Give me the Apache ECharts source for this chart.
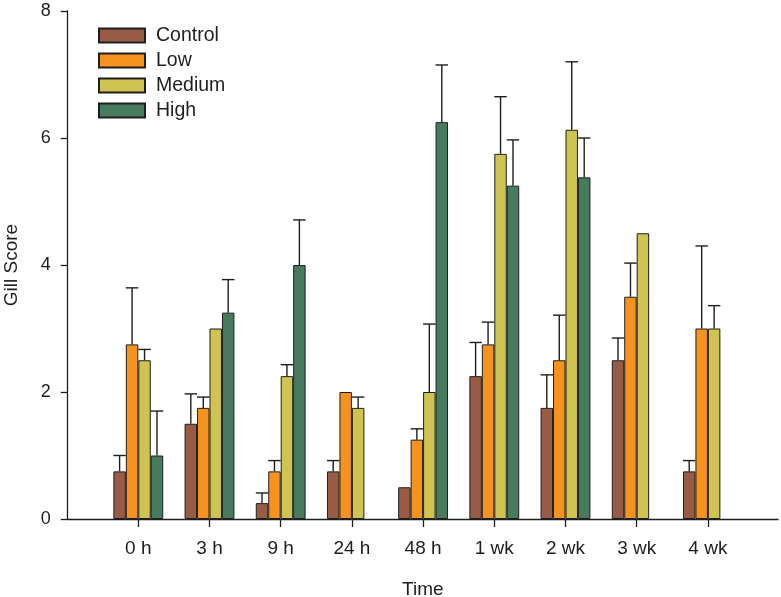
<!DOCTYPE html>
<html>
<head>
<meta charset="utf-8">
<script src="https://cdn.jsdelivr.net/npm/echarts@6/dist/echarts.min.js"></script>
<style>
html,body{margin:0;padding:0;background:#fff;}
#chart{width:781px;height:597px;}
</style>
</head>
<body>
<div id="chart"></div>
<script>
const categories = ['0 h', '3 h', '9 h', '24 h', '48 h', '1 wk', '2 wk', '3 wk', '4 wk'];
const seriesNames = ['Control', 'Low', 'Medium', 'High'];
const controlMean = [0.75, 1.5, 0.25, 0.75, 0.5, 2.25, 1.75, 2.5, 0.75];
const controlErr  = [0.25, 0.47, 0.16, 0.17, 0, 0.53, 0.52, 0.35, 0.17];
const lowMean     = [2.75, 1.75, 0.75, 2.0, 1.25, 2.75, 2.5, 3.5, 3.0];
const lowErr      = [0.89, 0.17, 0.17, 0, 0.17, 0.35, 0.71, 0.53, 1.30];
const mediumMean  = [2.5, 3.0, 2.25, 1.75, 2.0, 5.75, 6.13, 4.5, 3.0];
const mediumErr   = [0.17, 0, 0.18, 0.17, 1.07, 0.90, 1.07, 0, 0.36];
const highMean    = [1.0, 3.25, 4.0, null, 6.25, 5.25, 5.38, null, null];
const highErr     = [0.70, 0.52, 0.71, null, 0.90, 0.72, 0.62, null, null];
const yTicks = [0, 2, 4, 6, 8];

const means = [controlMean, lowMean, mediumMean, highMean];
const errs = [controlErr, lowErr, mediumErr, highErr];
const colors = ['#975b46', '#f6931e', '#cfc352', '#467b5d'];
const FONT = 'Liberation Sans, Arial, sans-serif';
const INK = '#1e1e1e';
const GROUP = 0.7;

const chart = echarts.init(document.getElementById('chart'), null, {renderer: 'canvas'});

const series = [];
seriesNames.forEach((name, s) => {
  series.push({
    name: name,
    type: 'bar',
    xAxisIndex: 1,
    yAxisIndex: 1,
    data: means[s],
    barGap: '0%',
    barCategoryGap: '30%',
    itemStyle: {color: colors[s], borderColor: INK, borderWidth: 1},
    emphasis: {disabled: true},
    z: 2
  });
});
seriesNames.forEach((name, s) => {
  const data = [];
  means[s].forEach((m, i) => {
    if (m != null && errs[s][i]) data.push([i, m, errs[s][i]]);
  });
  series.push({
    type: 'custom',
    xAxisIndex: 1,
    yAxisIndex: 1,
    data: data,
    encode: {x: 0, y: 1},
    silent: true,
    z: 3,
    renderItem: function (params, api) {
      const idx = api.value(0);
      const m = api.value(1);
      const e = api.value(2);
      const band = api.size([1, 0])[0];
      const gw = band * GROUP;
      const bw = gw / 4;
      const base = api.coord([idx, m]);
      const top = api.coord([idx, m + e]);
      const cx = base[0] - gw / 2 + (s + 0.5) * bw;
      const style = {stroke: INK, lineWidth: 1.4, fill: null};
      return {
        type: 'group',
        children: [
          {type: 'line', shape: {x1: cx, y1: base[1], x2: cx, y2: top[1]}, style: style},
          {type: 'line', shape: {x1: cx - bw / 2, y1: top[1], x2: cx + bw / 2, y2: top[1]}, style: style}
        ]
      };
    }
  });
});

const option = {
  backgroundColor: '#fff',
  animation: false,
  textStyle: {fontFamily: FONT},
  legend: {
    data: seriesNames,
    orient: 'vertical',
    left: 98,
    top: 25.5,
    padding: 0,
    itemWidth: 46,
    itemHeight: 14,
    itemGap: 5,
    icon: 'rect',
    textStyle: {fontFamily: FONT, fontSize: 19.5, color: INK, lineHeight: 20, padding: [0, 0, 0, 6]},
    selectedMode: false
  },
  grid: [
    {left: 67.7, right: 3, top: 11, bottom: 78, containLabel: false, outerBoundsMode: 'none'},
    {left: 102.7, right: 37.5, top: 11, bottom: 78, containLabel: false, outerBoundsMode: 'none'}
  ],
  xAxis: [
    {
      gridIndex: 0, type: 'value', min: 0, max: 1,
      axisLine: {show: true, onZero: false, lineStyle: {color: INK, width: 1.3}},
      axisTick: {show: false}, axisLabel: {show: false}, splitLine: {show: false},
      name: 'Time', nameLocation: 'middle', nameGap: 61,
      nameTextStyle: {fontFamily: FONT, fontSize: 19, color: INK}
    },
    {
      gridIndex: 1, type: 'category', data: categories, boundaryGap: true,
      axisLine: {show: false},
      axisTick: {show: true, alignWithLabel: true, length: 8, lineStyle: {color: INK, width: 1.3}},
      axisLabel: {fontFamily: FONT, fontSize: 19, color: INK, margin: 20},
      splitLine: {show: false}
    }
  ],
  yAxis: [
    {
      gridIndex: 0, type: 'value', min: yTicks[0], max: yTicks[yTicks.length - 1], interval: 2,
      axisLine: {show: true, lineStyle: {color: INK, width: 1.3}},
      axisTick: {show: true, length: 7, lineStyle: {color: INK, width: 1.3}},
      axisLabel: {fontFamily: FONT, fontSize: 18, color: INK, margin: 17},
      splitLine: {show: false},
      name: 'Gill Score', nameLocation: 'middle', nameGap: 46, nameRotate: 90,
      nameTextStyle: {fontFamily: FONT, fontSize: 19, color: INK}
    },
    {
      gridIndex: 1, type: 'value', min: yTicks[0], max: yTicks[yTicks.length - 1], interval: 2,
      show: false
    }
  ],
  series: series
};
chart.setOption(option);
</script>
</body>
</html>
